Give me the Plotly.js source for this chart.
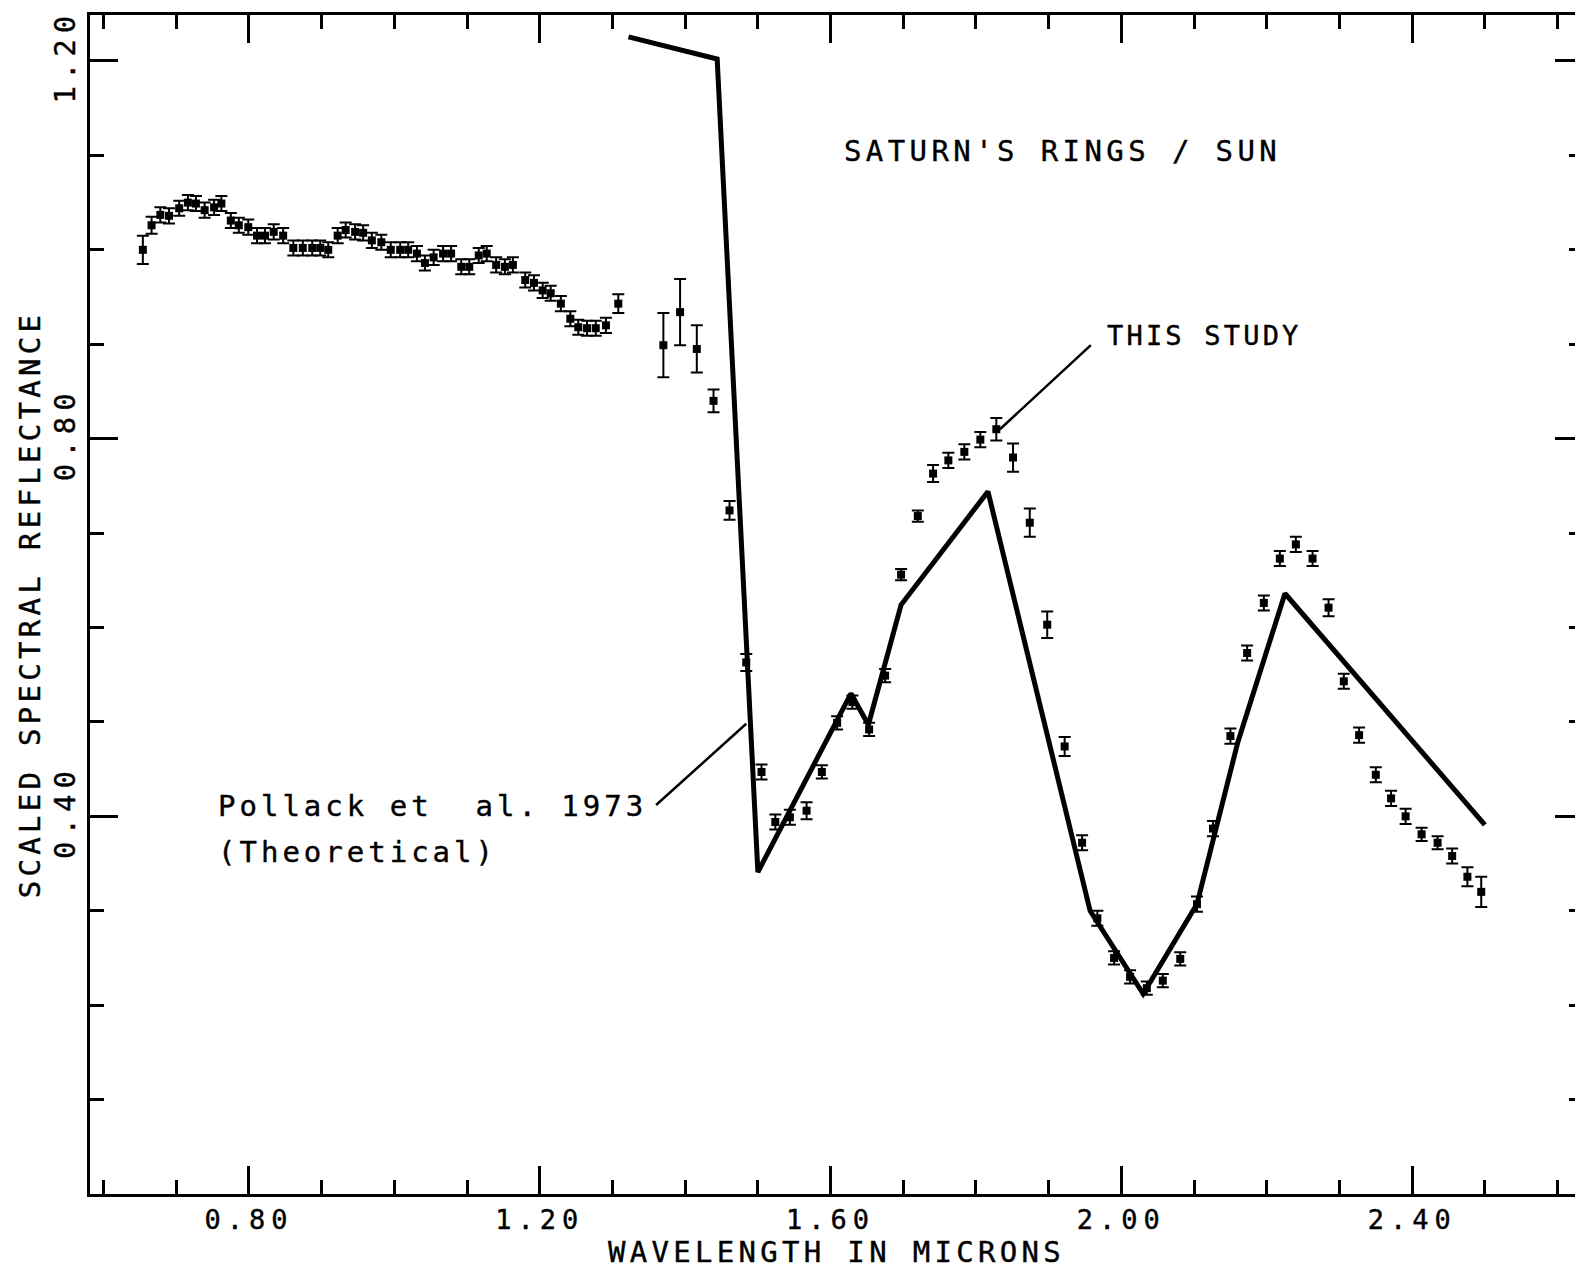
<!DOCTYPE html>
<html>
<head>
<meta charset="utf-8">
<script src="https://cdn.plot.ly/plotly-3.0.1.min.js"></script>
<style>
  html, body { margin: 0; padding: 0; background: #fff; overflow: hidden; }
  #chart { width: 1600px; height: 1272px; }
  /* wide, slightly heavy plotter-style lettering */
  .main-svg text { stroke: #000; stroke-width: 0.4px; }
  .xtick text, .ytick text { letter-spacing: 6px; }
  .g-xtitle text, .g-ytitle text { letter-spacing: 4.3px; }
  .annotation-text { letter-spacing: 4.4px; }
</style>
</head>
<body>
<div id="chart"></div>
<script>
// Measured spectrum of the rings divided by the solar spectrum (wavelength in microns)
const wavelength = [
  0.654, 0.666, 0.678, 0.690, 0.704, 0.716, 0.727, 0.739, 0.752, 0.762,
  0.775, 0.786, 0.799, 0.811, 0.822, 0.834, 0.847, 0.861, 0.874, 0.887,
  0.898, 0.909, 0.922, 0.933, 0.946, 0.957, 0.969, 0.982, 0.995, 1.008,
  1.019, 1.031, 1.042, 1.054, 1.067, 1.078, 1.092, 1.103, 1.116, 1.127,
  1.140, 1.152, 1.163, 1.180, 1.192, 1.204, 1.215, 1.229, 1.242, 1.253,
  1.265, 1.277, 1.291, 1.308,
  1.370, 1.393, 1.416, 1.439, 1.461, 1.484, 1.505, 1.524, 1.544, 1.567,
  1.588, 1.609, 1.630, 1.653, 1.675, 1.697, 1.720, 1.741, 1.762, 1.784,
  1.806, 1.828, 1.851, 1.874, 1.898, 1.922, 1.946, 1.967, 1.990, 2.012,
  2.035, 2.057, 2.081, 2.104, 2.126, 2.150, 2.173, 2.196, 2.218, 2.240,
  2.263, 2.285, 2.306, 2.327, 2.350, 2.371, 2.391, 2.413, 2.435, 2.455,
  2.476, 2.495
];
const reflectance = [
  1.000, 1.026, 1.037, 1.036, 1.044, 1.050, 1.049, 1.042, 1.045, 1.049,
  1.031, 1.026, 1.024, 1.015, 1.015, 1.019, 1.015, 1.002, 1.002, 1.002,
  1.002, 1.000, 1.015, 1.021, 1.019, 1.018, 1.010, 1.008, 1.000, 1.000,
  1.000, 0.996, 0.986, 0.992, 0.996, 0.996, 0.982, 0.982, 0.994, 0.996,
  0.984, 0.982, 0.984, 0.968, 0.965, 0.957, 0.954, 0.943, 0.927, 0.918,
  0.917, 0.917, 0.920, 0.943,
  0.899, 0.934, 0.895, 0.840, 0.724, 0.563, 0.447, 0.394, 0.399, 0.406,
  0.447, 0.499, 0.521, 0.492, 0.549, 0.656, 0.718, 0.763, 0.777, 0.786,
  0.799, 0.810, 0.780, 0.711, 0.603, 0.474, 0.372, 0.292, 0.250, 0.230,
  0.218, 0.226, 0.249, 0.307, 0.387, 0.485, 0.573, 0.626, 0.673, 0.688,
  0.673, 0.621, 0.543, 0.486, 0.444, 0.419, 0.400, 0.381, 0.372, 0.358,
  0.336, 0.320
];
const reflectanceError = [
  0.015, 0.009, 0.008, 0.008, 0.008, 0.008, 0.008, 0.008, 0.008, 0.008,
  0.008, 0.008, 0.008, 0.008, 0.008, 0.008, 0.008, 0.008, 0.008, 0.008,
  0.008, 0.008, 0.008, 0.008, 0.008, 0.008, 0.008, 0.008, 0.008, 0.008,
  0.008, 0.008, 0.008, 0.008, 0.008, 0.008, 0.008, 0.008, 0.008, 0.008,
  0.008, 0.008, 0.008, 0.008, 0.008, 0.008, 0.008, 0.008, 0.008, 0.008,
  0.008, 0.008, 0.008, 0.010,
  0.034, 0.035, 0.025, 0.012, 0.010, 0.009, 0.008, 0.008, 0.008, 0.009,
  0.007, 0.007, 0.007, 0.007, 0.007, 0.006, 0.006, 0.009, 0.008, 0.008,
  0.008, 0.012, 0.015, 0.015, 0.014, 0.010, 0.008, 0.008, 0.007, 0.007,
  0.007, 0.007, 0.007, 0.008, 0.008, 0.008, 0.008, 0.008, 0.008, 0.008,
  0.008, 0.009, 0.008, 0.008, 0.008, 0.008, 0.008, 0.007, 0.007, 0.008,
  0.010, 0.016
];

// Theoretical curve of Pollack et al. (1973)
const theoryWavelength  = [1.322, 1.444, 1.500, 1.628, 1.652, 1.697, 1.8165, 1.957, 2.030, 2.104, 2.160, 2.225, 2.500];
const theoryReflectance = [1.2255, 1.202, 0.341, 0.530, 0.497, 0.624, 0.744, 0.300, 0.212, 0.307, 0.478, 0.636, 0.391];

// Axis tick labels
const xTickVals = [0.8, 1.2, 1.6, 2.0, 2.4];
const xTickText = ['0.80', '1.20', '1.60', '2.00', '2.40'];
const yTickVals = [0.4, 0.8, 1.2];
const yTickText = ['0.40', '0.80', '1.20'];

const FONT = 'DejaVu Sans Mono, monospace';
const INK = '#000';

const traces = [
  {
    type: 'scatter', mode: 'lines',
    x: theoryWavelength, y: theoryReflectance,
    line: { color: INK, width: 5 },
    hoverinfo: 'skip', showlegend: false
  },
  {
    type: 'scatter', mode: 'markers',
    x: wavelength, y: reflectance,
    marker: { symbol: 'square', size: 8, color: INK },
    error_y: { type: 'data', array: reflectanceError, visible: true,
               color: INK, thickness: 2, width: 6 },
    showlegend: false
  }
];

const axisCommon = {
  showline: true, linewidth: 3, linecolor: INK, mirror: 'ticks',
  ticks: 'inside', ticklen: 28, tickwidth: 3, tickcolor: INK,
  showgrid: false, zeroline: false, automargin: false,
  tickmode: 'array',
  minor: { ticks: 'inside', dtick: 0.1, tick0: 0, ticklen: 14, tickwidth: 3, tickcolor: INK, showgrid: false }
};

const layout = {
  width: 1600, height: 1272,
  margin: { l: 90, r: 17, t: 15, b: 78 },
  paper_bgcolor: '#fff', plot_bgcolor: '#fff',
  showlegend: false,
  font: { family: FONT, color: INK },
  xaxis: Object.assign({}, axisCommon, {
    range: [0.5813, 2.635],
    tickvals: xTickVals, ticktext: xTickText,
    tickfont: { family: FONT, size: 27, color: INK },
    title: { text: 'WAVELENGTH IN MICRONS', font: { family: FONT, size: 29, color: INK }, standoff: 8 }
  }),
  yaxis: Object.assign({}, axisCommon, {
    range: [0, 1.2487],
    tickvals: yTickVals, ticktext: yTickText, tickangle: -90,
    tickfont: { family: FONT, size: 29, color: INK },
    title: { text: 'SCALED SPECTRAL REFLECTANCE', font: { family: FONT, size: 29, color: INK }, standoff: 0 }
  }),
  annotations: [
    { text: "SATURN'S RINGS / SUN", x: 1.6157, y: 1.1046, xref: 'x', yref: 'y',
      xanchor: 'left', yanchor: 'middle', showarrow: false,
      font: { family: FONT, size: 29, color: INK } },
    { text: '<span style="letter-spacing:3.2px">THIS STUDY</span>', x: 1.977, y: 0.909, xref: 'x', yref: 'y',
      xanchor: 'left', yanchor: 'middle', showarrow: false,
      font: { family: FONT, size: 27, color: INK } },
    { text: '<span style="letter-spacing:4.0px">Pollack et  al. 1973</span>', x: 0.7546, y: 0.411, xref: 'x', yref: 'y',
      xanchor: 'left', yanchor: 'middle', showarrow: false,
      font: { family: FONT, size: 29, color: INK } },
    { text: '<span style="letter-spacing:4.0px">(Theoretical)</span>', x: 0.7546, y: 0.362, xref: 'x', yref: 'y',
      xanchor: 'left', yanchor: 'middle', showarrow: false,
      font: { family: FONT, size: 29, color: INK } }
  ],
  shapes: [
    // leader lines from the labels to their curves
    { type: 'line', xref: 'x', yref: 'y', x0: 1.833, y0: 0.810, x1: 1.958, y1: 0.899,
      line: { color: INK, width: 2.5 } },
    { type: 'line', xref: 'x', yref: 'y', x0: 1.360, y0: 0.412, x1: 1.484, y1: 0.498,
      line: { color: INK, width: 2.5 } }
  ]
};

Plotly.newPlot('chart', traces, layout, { displayModeBar: false, staticPlot: true });
</script>
</body>
</html>
